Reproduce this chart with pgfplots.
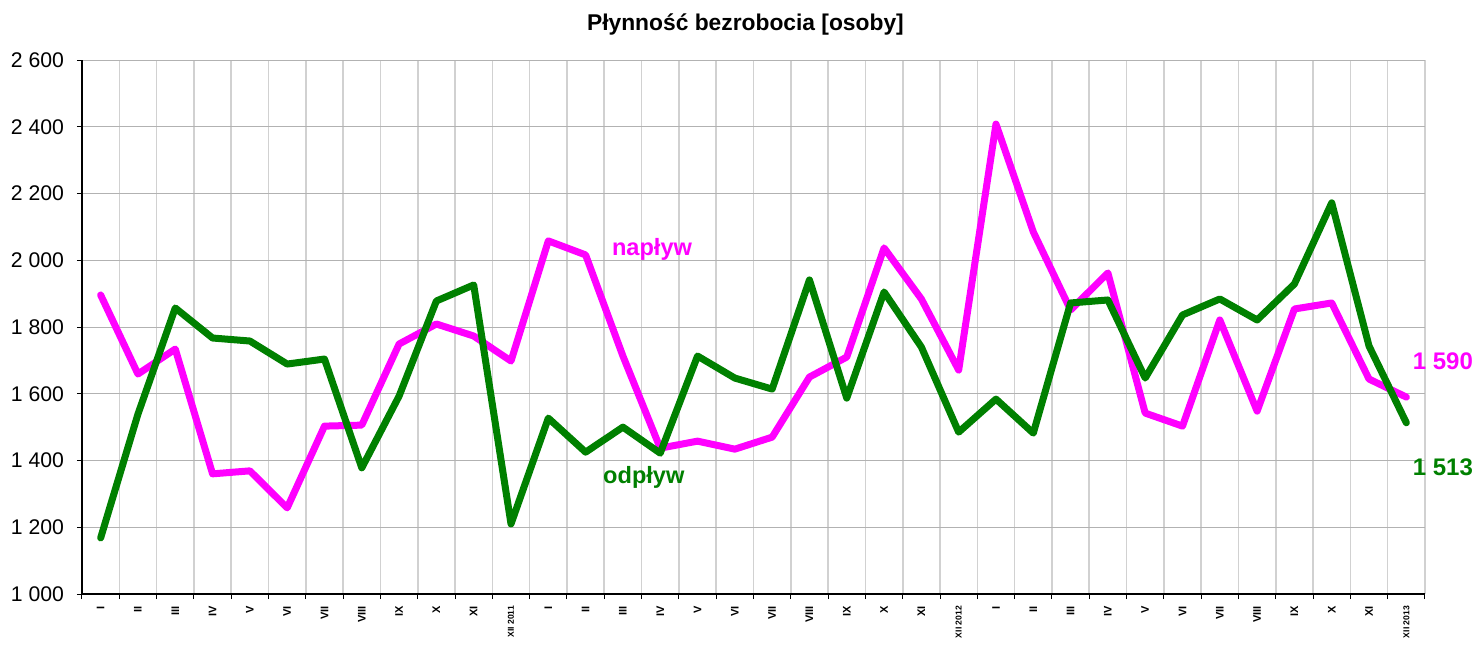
\documentclass[border=0pt]{standalone}
\usepackage{fontspec}
\setmainfont{Liberation Sans}
\usepackage{pgfplots}
\usepackage{pgfplotstable}
\pgfplotsset{compat=1.18}
\definecolor{naplyw}{HTML}{FF00FF}
\definecolor{odplyw}{HTML}{008000}

% months 2011-2013, index 0..35
\pgfplotstableread{
x  naplyw odplyw
0  1896 1168
1  1659 1539
2  1734 1857
3  1360 1767
4  1369 1758
5  1258 1689
6  1503 1704
7  1506 1378
8  1749 1593
9  1809 1878
10 1773 1926
11 1698 1210
12 2058 1527
13 2016 1425
14 1713 1500
15 1437 1422
16 1458 1713
17 1434 1647
18 1470 1614
19 1650 1941
20 1710 1587
21 2037 1905
22 1884 1740
23 1671 1485
24 2408 1584
25 2085 1482
26 1851 1872
27 1962 1881
28 1542 1647
29 1503 1836
30 1821 1884
31 1548 1821
32 1854 1929
33 1872 2172
34 1644 1743
35 1590 1513
}\dane

\newcommand{\yr}[1]{{\fontsize{4.3}{5}\selectfont XII #1}}

\begin{document}
\begin{tikzpicture}
\begin{axis}[
    at={(0,0)}, anchor=south west,
    scale only axis,
    width=671.5pt, height=267pt,
    xmin=-0.5, xmax=35.5,
    ymin=1000, ymax=2600,
    ytick={1000,1200,...,2600},
    axis x line*=bottom, axis y line*=left,
    axis line style={black, line width=0.6pt, -},
    ymajorgrids,
    major grid style={black!30, line width=0.5pt},
    xtick={0,...,35},
    xticklabels={I,II,III,IV,V,VI,VII,VIII,IX,X,XI,\yr{2011},
                 I,II,III,IV,V,VI,VII,VIII,IX,X,XI,\yr{2012},
                 I,II,III,IV,V,VI,VII,VIII,IX,X,XI,\yr{2013}},
    minor xtick={-0.5,0.5,...,35.5},
    xminorgrids,
    minor grid style={black!18, line width=0.8pt},
    major x tick style={draw=none},
    tick align=outside,
    major tick length=2.5pt, minor tick length=2.5pt,
    tick style={black, line width=0.5pt},
    xticklabel style={rotate=90, anchor=east, font=\bfseries\fontsize{5.5}{6}\selectfont},
    yticklabel style={font=\fontsize{10.6}{12}\selectfont, xshift=-3pt},
    /pgf/number format/assume math mode=true,
    /pgf/number format/1000 sep={\ },
    clip=false,
]
\addplot[color=naplyw, line width=3.5pt, line cap=round, line join=round] table[x=x, y=naplyw] {\dane};
\addplot[color=odplyw, line width=3.5pt, line cap=round, line join=round] table[x=x, y=odplyw] {\dane};

\node[text=naplyw, font=\bfseries\fontsize{11.8}{13}\selectfont] at (axis cs:14.78,2034) {napływ};
\node[text=odplyw, font=\bfseries\fontsize{11.8}{13}\selectfont] at (axis cs:14.56,1350) {odpływ};
\node[text=naplyw, font=\bfseries\fontsize{12}{14}\selectfont] at (axis cs:35.98,1698) {1 590};
\node[text=odplyw, font=\bfseries\fontsize{12}{14}\selectfont] at (axis cs:35.98,1380) {1 513};
\node[font=\bfseries\fontsize{11.4}{13}\selectfont] at (rel axis cs:0.494,1) [yshift=17.5pt] {Płynność bezrobocia [osoby]};
\end{axis}
\pgfresetboundingbox
\useasboundingbox (-41pt,-25pt) rectangle (696pt,297pt);
\end{tikzpicture}
\end{document}
